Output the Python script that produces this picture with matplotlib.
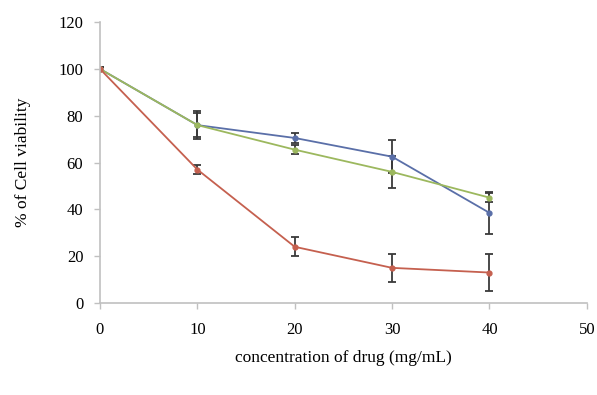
import matplotlib
matplotlib.use('Agg')
import matplotlib.pyplot as plt

# data
conc = [0, 10, 20, 30, 40]

blue = [100, 76, 70.5, 62.5, 38.5]
blue_err = [0.8, 6, 2, 7, 9]

green = [100, 76, 65.5, 56, 45]
green_err = [0.8, 5, 2, 7, 2]

red = [100, 57, 24, 15, 13]
red_err = [0.8, 2, 4, 6, 8]

plt.rcParams['font.family'] = ['Liberation Serif', 'DejaVu Serif']

fig = plt.figure(figsize=(5.97, 3.95), dpi=100)
ax = fig.add_axes([0.1675, 0.233, 0.8155, 0.711])

series = [
    (blue, blue_err, '#5a6fa8'),
    (green, green_err, '#9cb85e'),
    (red, red_err, '#c5604f'),
]
for vals, errs, col in series:
    ax.errorbar(conc, vals, yerr=errs, color=col, lw=1.3, marker='o', ms=3.5,
                ecolor='#3a3a3a', elinewidth=1.3, capsize=3, capthick=1.3)

ax.set_xlim(0, 50)
ax.set_ylim(0, 120)
ax.set_xticks([0, 10, 20, 30, 40, 50])
ax.set_yticks([0, 20, 40, 60, 80, 100, 120])

for s in ['top', 'right']:
    ax.spines[s].set_visible(False)
for s in ['left', 'bottom']:
    ax.spines[s].set_color('#c0c0c0')
    ax.spines[s].set_linewidth(1.2)
ax.tick_params(colors='#c0c0c0', labelcolor='black', labelsize=12, length=4, width=1)
ax.tick_params(axis='x', pad=10)
ax.tick_params(axis='y', pad=8)

ax.set_ylabel('% of Cell viability', fontsize=12.5, labelpad=20)
ax.set_xlabel('concentration of drug (mg/mL)', fontsize=12.5, labelpad=8)

fig.savefig('out.png', dpi=100)
